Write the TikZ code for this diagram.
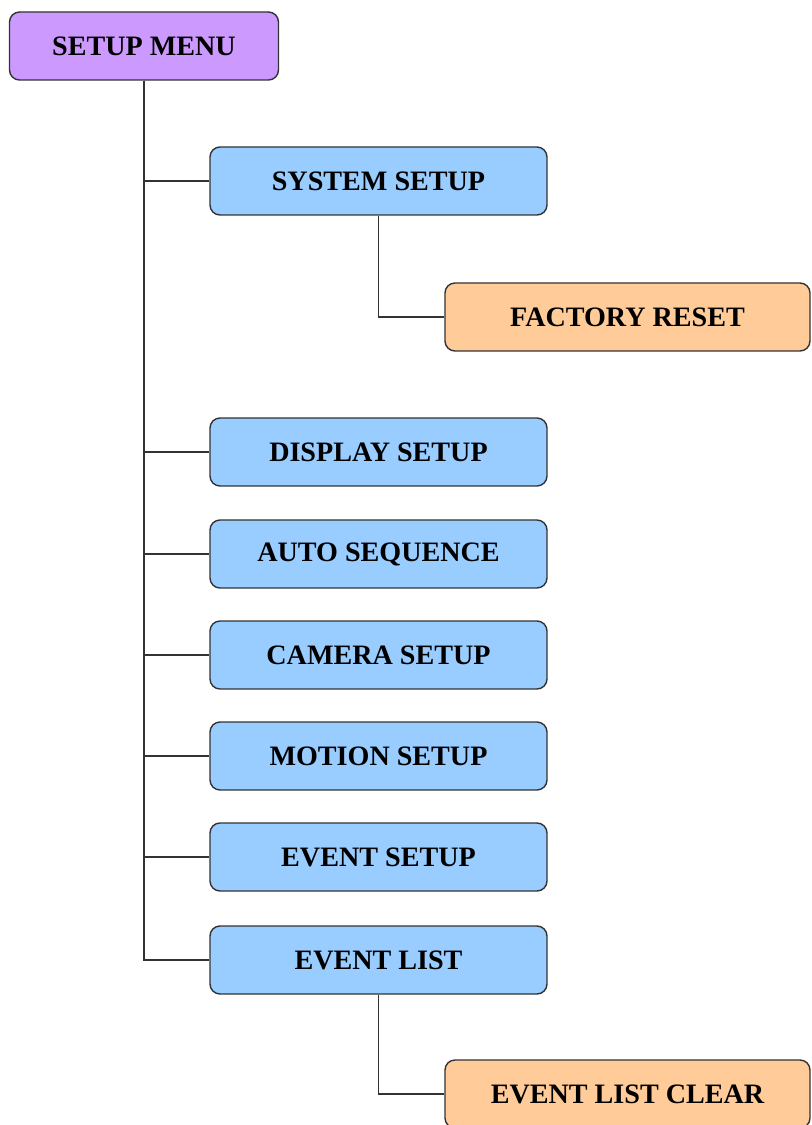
\documentclass[tikz,border=0pt]{standalone}
\usepackage{fontspec}
\setmainfont{Liberation Serif}
\usetikzlibrary{positioning}

\definecolor{menupurple}{HTML}{CC99FF}
\definecolor{itemblue}{HTML}{99CCFF}
\definecolor{suborange}{HTML}{FFCC99}
\definecolor{edgegray}{HTML}{333333}

\begin{document}
\begin{tikzpicture}[
  box/.style={draw=edgegray, line width=0.8pt, rounded corners=0.2cm,
    minimum height=1.36cm, font=\fontsize{16}{18}\selectfont\bfseries, align=center},
  topbox/.style={box, fill=menupurple, minimum width=5.38cm},
  itembox/.style={box, fill=itemblue, minimum width=6.74cm},
  subbox/.style={box, fill=suborange, minimum width=7.3cm},
  wire/.style={draw=edgegray, line width=0.8pt}
]
\useasboundingbox (0,0) rectangle (16.22,-22.5);

\draw (2.88,-0.92)   node (setup)   [topbox]  {SETUP MENU};

\draw (7.57,-3.62)   node (system)  [itembox] {SYSTEM SETUP};
\draw (12.55,-6.34)  node (factory) [subbox]  {FACTORY RESET};

\draw (7.57,-9.04)   node (display) [itembox] {DISPLAY SETUP};
\draw (7.57,-11.08)  node (autoseq) [itembox] {AUTO SEQUENCE};
\draw (7.57,-13.10)  node (camera)  [itembox] {CAMERA SETUP};
\draw (7.57,-15.12)  node (motion)  [itembox] {MOTION SETUP};
\draw (7.57,-17.14)  node (event)   [itembox] {EVENT SETUP};

\draw (7.57,-19.20)  node (evlist)  [itembox] {EVENT LIST};
\draw (12.55,-21.88) node (evclear) [subbox]  {EVENT LIST CLEAR};

\draw[wire] (setup.south) |- (system.west);
\draw[wire] (setup.south) |- (display.west);
\draw[wire] (setup.south) |- (autoseq.west);
\draw[wire] (setup.south) |- (camera.west);
\draw[wire] (setup.south) |- (motion.west);
\draw[wire] (setup.south) |- (event.west);
\draw[wire] (setup.south) |- (evlist.west);

\draw[wire] (system.south) |- (factory.west);
\draw[wire] (evlist.south) |- (evclear.west);

\end{tikzpicture}
\end{document}
